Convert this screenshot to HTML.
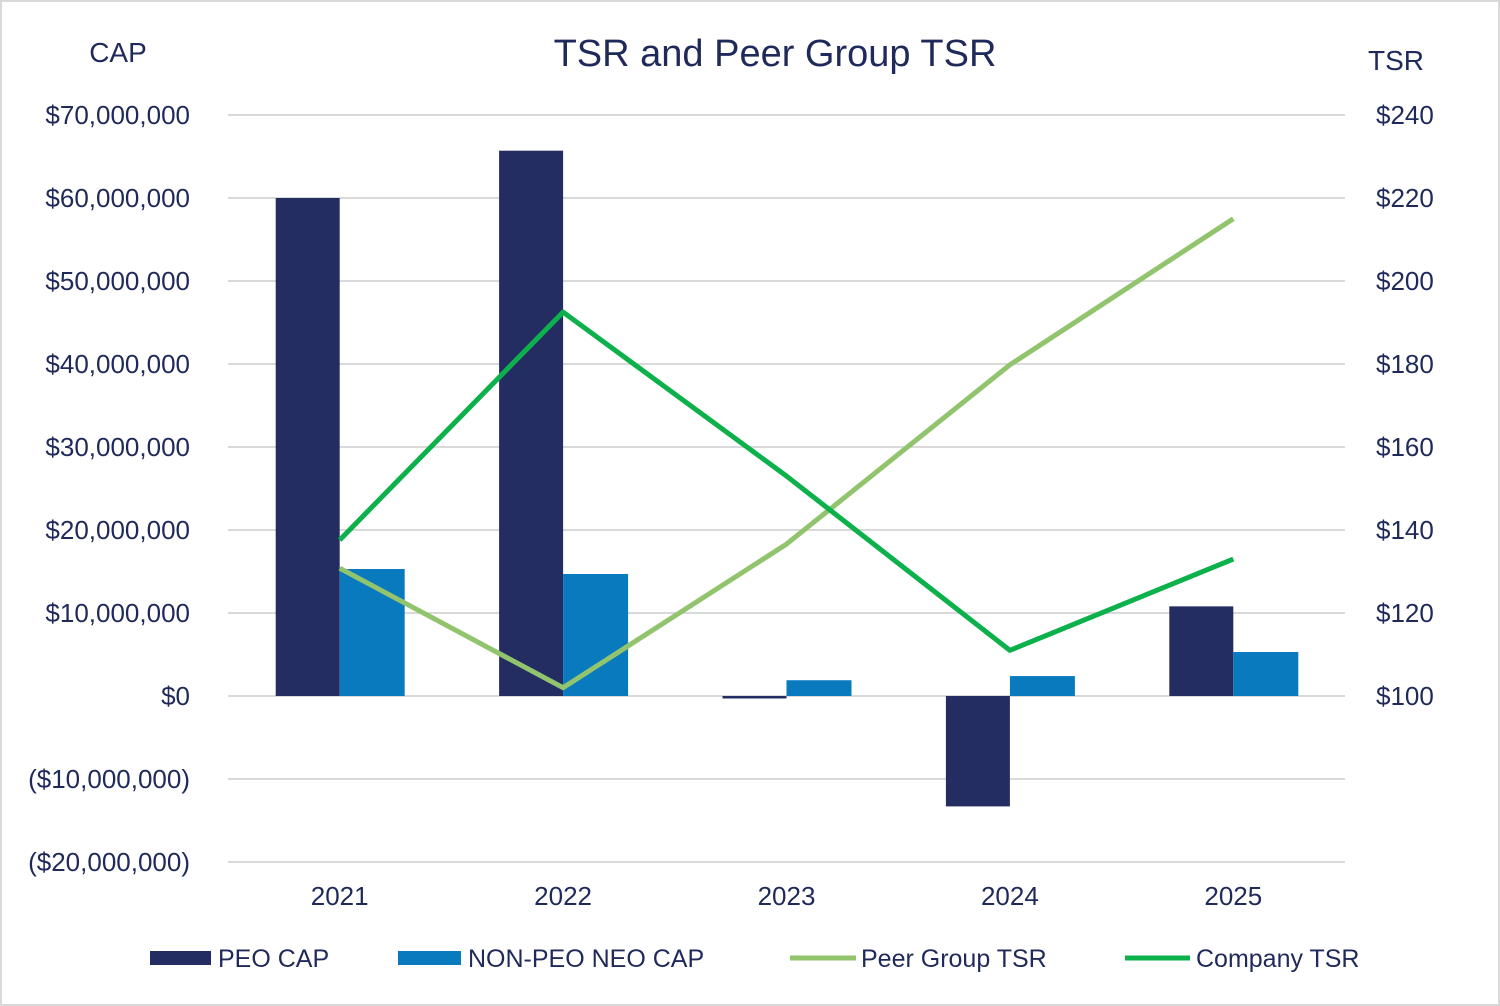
<!DOCTYPE html>
<html><head><meta charset="utf-8"><style>
html,body{margin:0;padding:0;background:#fff}
svg{display:block}
text{font-family:"Liberation Sans",sans-serif;fill:#1f2a5a}
</style></head><body>
<svg id="chart" width="1500" height="1006">
<rect x="1" y="1" width="1498" height="1004" fill="#fff" stroke="#d9d9d9" stroke-width="2"/>
<text x="775" y="66" font-size="38" text-anchor="middle">TSR and Peer Group TSR</text>
<text x="118" y="62" font-size="28" text-anchor="middle">CAP</text>
<text x="1396" y="70" font-size="28" text-anchor="middle">TSR</text>
<g id="grid"></g><g id="bars"></g><g id="lines"></g><g id="axes"></g>
<g>
<rect x="150" y="951" width="61" height="14" fill="#232d62"/>
<text x="218" y="967" font-size="25">PEO CAP</text>
<rect x="398" y="951" width="63" height="14" fill="#0a7abf"/>
<text x="468" y="967" font-size="25">NON-PEO NEO CAP</text>
<line x1="790" y1="958" x2="856" y2="958" stroke="#92c46e" stroke-width="5"/>
<text x="861" y="967" font-size="25">Peer Group TSR</text>
<line x1="1125" y1="958" x2="1190" y2="958" stroke="#0db14b" stroke-width="5"/>
<text x="1196" y="967" font-size="25">Company TSR</text>
</g>
</svg>
<script>
const categories=["2021","2022","2023","2024","2025"];
const peoCap=[60.0,65.7,-0.3,-13.3,10.8];
const nonPeoCap=[15.3,14.7,1.9,2.4,5.3];
const peerTsr=[130.8,102,136.6,179.8,215];
const companyTsr=[137.6,192.5,153,111,133];
const leftTicks=[70,60,50,40,30,20,10,0,-10,-20];
const rightTicks=[240,220,200,180,160,140,120,100];
const NS="http://www.w3.org/2000/svg";
const X0=228,X1=1345,band=(X1-X0)/categories.length;
function xc(i){return X0+band*(i+0.5);}
function yL(v){return 696-v*8.3;}
function yR(v){return 696-(v-100)*4.15;}
function mk(tag,attrs,parent,txt){const e=document.createElementNS(NS,tag);for(const k in attrs)e.setAttribute(k,attrs[k]);if(txt!==undefined)e.textContent=txt;document.getElementById(parent).appendChild(e);return e;}
function fmt(v){const s="$"+(Math.abs(v)*1000000).toLocaleString("en-US");return v<0?"("+s+")":s;}
leftTicks.forEach(t=>{
  const g=mk("line",{x1:X0,x2:X1,y1:yL(t),y2:yL(t),stroke:"#d9d9d9","stroke-width":2},"grid");
  
  
  const l=mk("text",{x:190,y:yL(t)+9,"font-size":26,"text-anchor":"end"},"axes",fmt(t));
  
  
});
rightTicks.forEach(t=>{
  const l=mk("text",{x:1376,y:yR(t)+9,"font-size":26},"axes","$"+t);
  
  
});
const bw=64;
categories.forEach((c,i)=>{
  const l=mk("text",{x:xc(i),y:905,"font-size":26,"text-anchor":"middle"},"axes",c);
  
  
  const v=peoCap[i],y=Math.min(yL(v),yL(0)),h=Math.max(Math.abs(yL(v)-yL(0)),1.5);
  const b=mk("rect",{x:xc(i)-bw,y:y,width:bw,height:h,fill:"#232d62"},"bars");
  
  
  const v2=nonPeoCap[i],y2=Math.min(yL(v2),yL(0)),h2=Math.abs(yL(v2)-yL(0));
  const b2=mk("rect",{x:xc(i),y:y2,width:bw+1,height:h2,fill:"#0a7abf"},"bars");
  
  
});
function line(arr,color,name){
  const p=mk("polyline",{points:arr.map((v,i)=>xc(i)+","+yR(v)).join(" "),fill:"none",stroke:color,"stroke-width":5,"stroke-linejoin":"round"},"lines");
  
  
}
line(peerTsr,"#92c46e","peer-group-tsr-line");
line(companyTsr,"#0db14b","company-tsr-line");
</script>
</body></html>
